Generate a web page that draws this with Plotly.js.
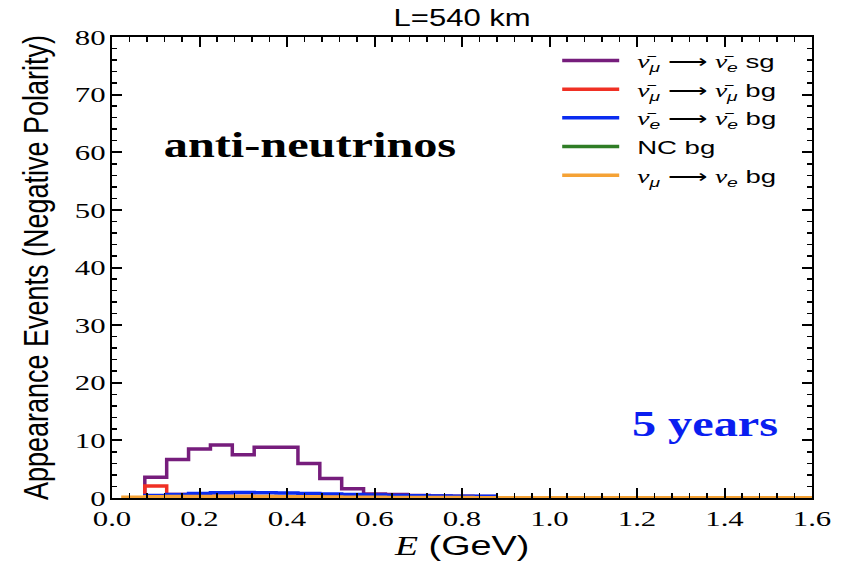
<!DOCTYPE html>
<html>
<head>
<meta charset="utf-8">
<script src="https://cdn.plot.ly/plotly-3.0.1.min.js"></script>
<style>html,body{margin:0;padding:0;background:#fff}#plot{width:851px;height:562px}</style>
</head>
<body>
<div id="plot"></div>
<script>
// Bin edges (GeV): left edges of each bin plus the final right edge
const binEdges = [0.075,0.125,0.175,0.225,0.275,0.325,0.375,0.425,0.475,0.525,0.575,0.625,0.675,0.725,0.775,0.825,0.875];
const sgNuMuBarToNuEBar = [3.6,6.7,8.5,9.2,7.5,8.8,8.8,6.0,3.4,1.6,0.7,0.6,0.45,0.35,0.3,0.25];
const bgNuMuBarToNuMuBar = [2.1,0.6,0.35,0.3,0.25,0.2,0.2,0.15,0.15,0.1,0.1,0.1,0.08,0.08,0.05,0.05];
const bgNuEBarToNuEBar = [0.45,0.6,0.8,0.9,0.95,0.9,0.85,0.8,0.7,0.6,0.5,0.45,0.4,0.35,0.3,0.3];
const bgNC = [0.05,0.05,0.05,0.05,0.05,0.05,0.05,0.05,0.04,0.04,0.03,0.03,0.03,0.02,0.02,0.02];
const orangeEdges = [0.025,0.075,0.125,0.175,0.225,0.275,0.325,0.375,0.425,0.475,0.525,0.575,0.625,0.675,0.725,0.775,0.825,0.875,1.6];
const bgNuMuToNuE = [0.15,0.2,0.25,0.25,0.25,0.25,0.25,0.22,0.2,0.18,0.15,0.12,0.1,0.1,0.08,0.08,0.06,0.05];
const xTicks = [0.0,0.2,0.4,0.6,0.8,1.0,1.2,1.4,1.6];
const xTickText = ['0.0','0.2','0.4','0.6','0.8','1.0','1.2','1.4','1.6'];
const yTicks = [0,10,20,30,40,50,60,70,80];

// step outline of a histogram (starts and ends at zero, like histtype='step')
function step(edges, vals){
  const n = edges.length;
  return {x: [edges[0]].concat(edges, [edges[n-1]]), y: [0].concat(vals, [vals[vals.length-1], 0])};
}
const G = s => '<span style="font-family:Liberation Serif"><i>' + s + '</i></span>';
const sub = s => '<sub><i>' + s + '</i></sub>';
const ARR = '\u00a0⟶\u00a0';

const series = [
  {name: G('ν̄') + sub('μ') + ARR + G('ν̄') + sub('e') + ' sg', vals: sgNuMuBarToNuEBar, edges: binEdges, color:'#761d7c'},
  {name: G('ν̄') + sub('μ') + ARR + G('ν̄') + sub('μ') + ' bg', vals: bgNuMuBarToNuMuBar, edges: binEdges, color:'#f03024'},
  {name: G('ν̄') + sub('e') + ARR + G('ν̄') + sub('e') + ' bg', vals: bgNuEBarToNuEBar, edges: binEdges, color:'#0a2cf0'},
  {name: 'NC bg', vals: bgNC, edges: binEdges, color:'#2f7d25'},
  {name: G('ν') + sub('μ') + ARR + G('ν') + sub('e') + ' bg', vals: bgNuMuToNuE, edges: orangeEdges, color:'#f5a235'}
];

const traces = series.map((s, i) => {
  const d = step(s.edges, s.vals);
  return {x: d.x, y: d.y, type:'scatter', mode:'lines', name: s.name, legendgroup: 'g' + i,
          line:{shape:'hv', color: s.color, width:3.5}};
});

const axisCommon = {
  showline:true, linecolor:'#000', linewidth:2, mirror:'allticks',
  ticks:'inside', ticklen:10, tickwidth:2, tickcolor:'#000',
  showgrid:false, zeroline:false,
  tickfont:{family:'Liberation Serif, serif', size:22, color:'#000'}
};

const layout = {
  width:851, height:562,
  margin:{l:112, r:39, t:37, b:64},
  paper_bgcolor:'#fff', plot_bgcolor:'#fff',
  title:{text:'L=540 km', font:{family:'Liberation Sans, Arial, sans-serif', size:23, color:'#000'}, x:0.543, xanchor:'center', y:0.968, yanchor:'middle'},
  xaxis: Object.assign({}, axisCommon, {
    range:[0,1.6], tickvals:xTicks, ticktext:xTickText,
    minor:{dtick:0.04, ticks:'inside', ticklen:5, tickwidth:1.5, tickcolor:'#000', showgrid:false},
    title:{text:'<span style="font-family:Liberation Serif"><i>E</i></span> (GeV)', font:{family:'Liberation Sans, Arial, sans-serif', size:27, color:'#000'}, standoff:4}
  }),
  yaxis: Object.assign({}, axisCommon, {
    range:[0,80], tickvals:yTicks,
    minor:{dtick:2, ticks:'inside', ticklen:5, tickwidth:1.5, tickcolor:'#000', showgrid:false},
    title:{text:'Appearance Events (Negative Polarity)', font:{family:'Liberation Sans, sans-serif', size:27, color:'#000'}, standoff:14}
  }),
  legend:{x:0.636, xanchor:'left', y:0.99, yanchor:'top', bgcolor:'rgba(0,0,0,0)', itemwidth:57,
          font:{family:'Liberation Sans, Arial, sans-serif', size:19, color:'#000'}, tracegroupgap:1},
  showlegend:true,
  annotations:[
    {text:'<b>anti-neutrinos</b>', xref:'paper', yref:'paper', x:0.283, y:0.764, xanchor:'center', yanchor:'middle', showarrow:false,
     font:{family:'Liberation Serif, Times New Roman, serif', size:35, color:'#000'}},
    {text:'<b>5 years</b>', xref:'paper', yref:'paper', x:0.847, y:0.16, xanchor:'center', yanchor:'middle', showarrow:false,
     font:{family:'Liberation Serif, Times New Roman, serif', size:35, color:'#0a1ef0'}}
  ]
};

// horizontal stretch of text to mimic the reference's wide aspect
function stretch(el, f, anchor, dx){
  const r = el.getBoundingClientRect();
  const ax = anchor === 'left' ? r.left : anchor === 'right' ? r.right : (r.left + r.right) / 2;
  const pm = el.parentNode.getScreenCTM();
  const px = (ax - pm.e) / pm.a;
  const old = el.getAttribute('transform') || '';
  el.setAttribute('transform', 'translate(' + (px + (dx || 0)) + ',0) scale(' + f + ',1) translate(' + (-px) + ',0) ' + old);
}

Plotly.newPlot('plot', traces, layout, {displayModeBar:false, staticPlot:true}).then(gd => {
  const q = s => Array.from(gd.querySelectorAll(s));
  q('.gtitle').forEach(e => stretch(e, 1.35, 'center', 0));
  q('.xtitle').forEach(e => stretch(e, 1.4, 'center', 0));
  q('.ytitle').forEach(e => stretch(e, 1.3, 'center', -16));
  q('.xtick text').forEach(e => stretch(e, 1.4, 'center', 0));
  q('.ytick text').forEach(e => stretch(e, 1.4, 'right', 0));
  q('.annotation-text').forEach(e => stretch(e, 1.38, 'center', 0));
  q('.legendtext').forEach(e => stretch(e, 1.45, 'left', 13));
  q('.legend [clip-path]').forEach(e => e.removeAttribute('clip-path'));
  q('.legend').forEach(e => e.removeAttribute('clip-path'));
});
</script>
</body>
</html>
